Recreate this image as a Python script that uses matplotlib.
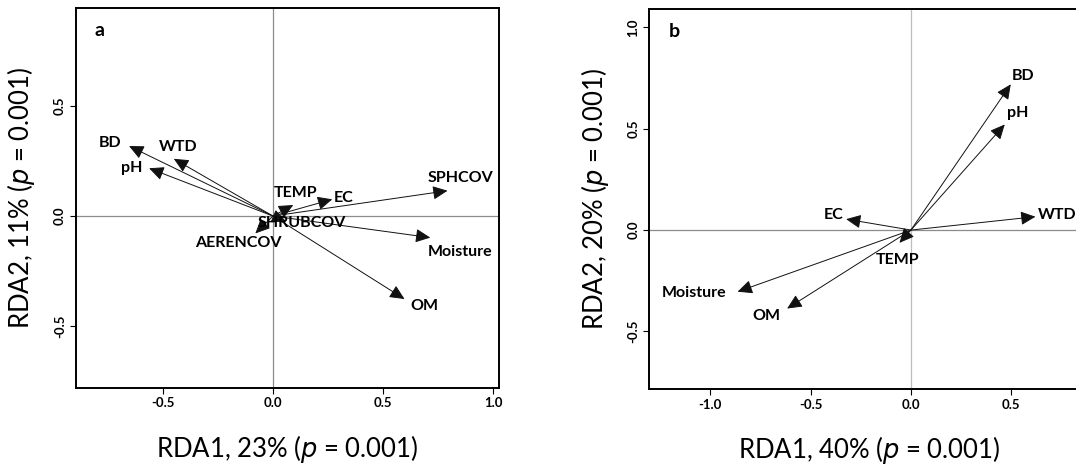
import matplotlib.pyplot as plt
import numpy as np

plt.rcParams['font.family'] = ['Lato', 'DejaVu Sans']

# biplot scores, panel a
vars_a = ["BD", "WTD", "pH", "TEMP", "EC", "SPHCOV", "Moisture", "OM", "SHRUBCOV", "AERENCOV"]
rda1_a = [-0.653, -0.45, -0.562, 0.092, 0.269, 0.792, 0.714, 0.597, 0.06, -0.08]
rda2_a = [0.318, 0.26, 0.217, 0.05, 0.076, 0.115, -0.098, -0.377, -0.025, -0.079]

# biplot scores, panel b
vars_b = ["BD", "pH", "WTD", "EC", "TEMP", "Moisture", "OM"]
rda1_b = [0.498, 0.468, 0.621, -0.323, -0.057, -0.864, -0.617]
rda2_b = [0.719, 0.521, 0.066, 0.054, -0.063, -0.304, -0.387]

xlab_a = "RDA1, 23% ($\\it{p}$ = 0.001)"
ylab_a = "RDA2, 11% ($\\it{p}$ = 0.001)"
xlab_b = "RDA1, 40% ($\\it{p}$ = 0.001)"
ylab_b = "RDA2, 20% ($\\it{p}$ = 0.001)"

# label offsets from the arrow tips, in points
offs_a = {"BD": (-13.6, 2.4), "WTD": (3.2, 8.2), "pH": (-12.7, 0.5), "TEMP": (1.9, 8.9),
          "EC": (8.5, 1.0), "SPHCOV": (9.5, 8.9), "Moisture": (21.2, -10.6),
          "OM": (14.1, -5.1), "SHRUBCOV": (11.1, -1.3), "AERENCOV": (-12.4, -7.1)}
offs_b = {"BD": (8.7, 5.9), "pH": (9.3, 8.0), "WTD": (15.5, 1.2), "EC": (-9.1, 2.9),
          "TEMP": (-1.4, -12.3), "Moisture": (-31.3, -0.7), "OM": (-14.6, -5.4)}

fig = plt.figure(figsize=(10.76, 4.65), dpi=100)
ax_a = fig.add_axes([0.0704, 0.1662, 0.3936, 0.816])
ax_b = fig.add_axes([0.6035, 0.1634, 0.4095, 0.8166])


def biplot(ax, names, xs, ys, offs, xlim, ylim, xticks, yticks, tag, vcol):
    ax.axhline(0, color='#8c8c8c', lw=0.9, zorder=1)
    ax.axvline(0, color=vcol, lw=0.9, zorder=1)
    for name, x, y in zip(names, xs, ys):
        ax.annotate('', xy=(x, y), xytext=(0, 0),
                    arrowprops=dict(arrowstyle='-|>,head_length=0.6,head_width=0.28',
                                    color='#111111', lw=0.7, mutation_scale=15,
                                    shrinkA=0, shrinkB=0), zorder=2)
        ax.annotate(name, xy=(x, y), xytext=offs[name], textcoords='offset points',
                    ha='center', va='center', fontsize=11.5, fontweight='bold', zorder=3)
    ax.set_xlim(*xlim)
    ax.set_ylim(*ylim)
    ax.set_xticks(xticks, labels=[f"{t:.1f}" for t in xticks])
    ax.set_yticks(yticks, labels=[f"{t:.1f}" for t in yticks])
    for lab in ax.get_yticklabels():
        lab.set_rotation(90)
        lab.set_va('center')
    ax.tick_params(labelsize=9.5, length=4, width=0.8, pad=3)
    for lab in ax.get_xticklabels() + ax.get_yticklabels():
        lab.set_fontweight('bold')
    for s in ax.spines.values():
        s.set_linewidth(1.4)
    ax.text(0.057, 0.942, tag, transform=ax.transAxes, fontsize=14, fontweight='bold',
            ha='center', va='center')


biplot(ax_a, vars_a, rda1_a, rda2_a, offs_a, (-0.895, 1.027), (-0.78, 0.944),
       [-0.5, 0.0, 0.5, 1.0], [-0.5, 0.0, 0.5], "a", '#8c8c8c')
biplot(ax_b, vars_b, rda1_b, rda2_b, offs_b, (-1.304, 0.893), (-0.784, 1.089),
       [-1.0, -0.5, 0.0, 0.5], [-0.5, 0.0, 0.5, 1.0], "b", '#bdbdbd')

ax_a.set_xlabel(xlab_a, fontsize=18.5, labelpad=17)
ax_a.set_ylabel(ylab_a, fontsize=18.5, labelpad=12)
ax_b.set_xlabel(xlab_b, fontsize=18.5, labelpad=17)
ax_b.set_ylabel(ylab_b, fontsize=18.5, labelpad=12)

fig.savefig("out.png", dpi=100)
